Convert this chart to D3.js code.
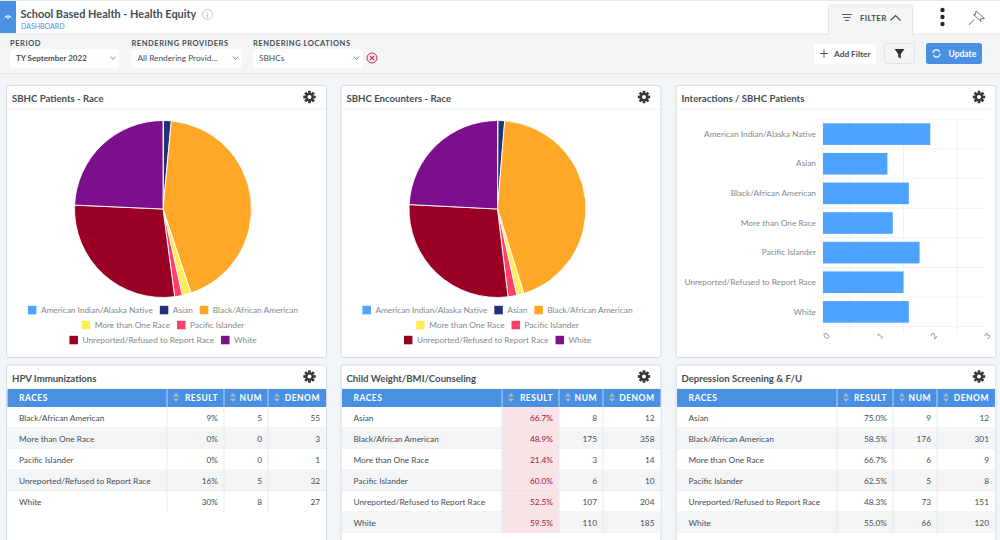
<!DOCTYPE html>
<html>
<head>
<meta charset="utf-8">
<script src="https://cdn.jsdelivr.net/npm/d3@7"></script>
<style>
  body { margin: 0; background: #f3f6f9; }
  svg { display: block; }
  text { font-family: Lato, sans-serif; }
</style>
</head>
<body>
<div id="dashboard"></div>
<script>
// Chart data
const races = ["American Indian/Alaska Native", "Asian", "Black/African American", "More than One Race", "Pacific Islander", "Unreported/Refused to Report Race", "White"];
const raceColors = ["#4da3ff", "#22317a", "#ffa726", "#ffee58", "#ff4069", "#990024", "#7b0f8c"];
const legendRows = [races.slice(0, 3), races.slice(3, 5), races.slice(5)];

const patientShares = [0.1, 1.4, 43.4, 1.6, 1.4, 27.8, 24.3];
const encounterShares = [0.1, 1.2, 43.9, 1.3, 1.6, 27.7, 24.2];
const interactions = [2.0, 1.2, 1.6, 1.3, 1.8, 1.5, 1.6];
const interactionTicks = [0, 1, 2, 3];
const interactionGrid = [0, 0.5, 1.5, 2.5];

const tableColumns = ["RESULT", "NUM", "DENOM"];

const hpvRaces = ["Black/African American", "More than One Race", "Pacific Islander", "Unreported/Refused to Report Race", "White"];
const hpvResult = ["9%", "0%", "0%", "16%", "30%"];
const hpvNum = [5, 0, 0, 5, 8];
const hpvDenom = [55, 3, 1, 32, 27];

const bmiRaces = ["Asian", "Black/African American", "More than One Race", "Pacific Islander", "Unreported/Refused to Report Race", "White"];
const bmiResult = ["66.7%", "48.9%", "21.4%", "60.0%", "52.5%", "59.5%"];
const bmiNum = [8, 175, 3, 6, 107, 110];
const bmiDenom = [12, 358, 14, 10, 204, 185];

const depressionRaces = bmiRaces;
const depressionResult = ["75.0%", "58.5%", "66.7%", "62.5%", "48.3%", "55.0%"];
const depressionNum = [9, 176, 6, 5, 73, 66];
const depressionDenom = [12, 301, 9, 8, 151, 120];

const ink = "#464d55";
const blue = "#4a90e2";
const bodySize = 8.3;

const svg = d3.select("#dashboard")
    .append("svg")
    .attr("width", 1000)
    .attr("height", 540);

// Small helper for the many labels on this page
function label(parent, x, y, str, size, color, opts = {}) {
    return parent.append("text")
        .attr("x", x)
        .attr("y", y)
        .attr("text-anchor", opts.anchor || "start")
        .style("font-size", size + "px")
        .style("font-weight", opts.weight || 400)
        .style("letter-spacing", opts.spacing || "normal")
        .attr("fill", color)
        .text(str);
}

function gear(cx, cy) {
    const g = svg.append("g").attr("transform", `translate(${cx},${cy})`);
    d3.range(4).forEach(i => {
        g.append("rect")
            .attr("x", -1.4).attr("y", -6.2)
            .attr("width", 2.8).attr("height", 12.4)
            .attr("fill", "#33383d")
            .attr("transform", `rotate(${i * 45})`);
    });
    g.append("circle").attr("r", 4).attr("fill", "#33383d");
    g.append("circle").attr("r", 2).attr("fill", "#fff");
}

function chevron(cx, cy, r, color) {
    svg.append("path")
        .attr("d", `M${cx - r},${cy - r / 2}L${cx},${cy + r / 2}L${cx + r},${cy - r / 2}`)
        .attr("fill", "none")
        .attr("stroke", color)
        .attr("stroke-width", 0.9);
}

// Top bar
svg.append("rect").attr("width", 1000).attr("height", 34).attr("fill", "#fff");
svg.append("rect").attr("y", 0).attr("width", 1000).attr("height", 1).attr("fill", "#e4e6e8");
svg.append("rect").attr("y", 1).attr("width", 16).attr("height", 32).attr("fill", blue);
svg.append("path").attr("d", "M5,17.5A3.5,3.5 0 0 1 11,17.5").attr("fill", "none").attr("stroke", "#fff").attr("stroke-width", 1.2);
svg.append("circle").attr("cx", 8).attr("cy", 18).attr("r", 1).attr("fill", "#fff");
label(svg, 20.5, 17.5, "School Based Health - Health Equity", 10.95, ink, {weight: 700});
label(svg, 21, 28.5, "DASHBOARD", 7, blue);
svg.append("circle").attr("cx", 207.5).attr("cy", 14.5).attr("r", 5).attr("fill", "#fff").attr("stroke", "#b5bcc4").attr("stroke-width", 0.8);
label(svg, 207.5, 17.5, "i", 8, "#9aa2ab", {anchor: "middle"});

// Filter bar
svg.append("rect").attr("y", 34).attr("width", 1000).attr("height", 39.5).attr("fill", "#f4f5f6");
svg.append("rect").attr("y", 33.5).attr("width", 1000).attr("height", 1).attr("fill", "#e6e8ea");
svg.append("rect").attr("y", 73).attr("width", 1000).attr("height", 1).attr("fill", "#e6e9ec");

// FILTER tab
svg.append("path").attr("d", "M828.5,34V7Q828.5,5 830.5,5H910Q912.5,5 912.5,7V34").attr("fill", "#f4f5f6").attr("stroke", "#e4e6e8");
svg.append("rect").attr("x", 829).attr("y", 32).attr("width", 83).attr("height", 3).attr("fill", "#f4f5f6");
[[842, 10], [843.5, 7], [845, 4]].forEach((d, i) => {
    svg.append("rect").attr("x", d[0]).attr("y", 14 + i * 3).attr("width", d[1]).attr("height", 1).attr("fill", "#555c63");
});
label(svg, 860, 20.5, "FILTER", 8, ink, {weight: 700, spacing: "0.3px"});
svg.append("path").attr("d", "M890.5,20.5L895.5,15.5L900.5,20.5").attr("fill", "none").attr("stroke", ink).attr("stroke-width", 1.2);

// Kebab and pin
[10, 17, 24].forEach(y => svg.append("circle").attr("cx", 942.5).attr("cy", y).attr("r", 2.2).attr("fill", "#25282b"));
svg.append("path")
    .attr("d", "M969,25L974,19.5M973,14L981,21.5M976,11L984.5,18.5M976,11L975,15.5M984.5,18.5L980,19M975,15.5L973,14M980,19L981,21.5")
    .attr("fill", "none")
    .attr("stroke", "#6f757b")
    .attr("stroke-width", 1);

// Dropdowns
const dropdowns = [
    {name: "PERIOD", value: "TY September 2022", x: 10, w: 109, weight: 700, size: 8},
    {name: "RENDERING PROVIDERS", value: "All Rendering Provid...", x: 131.5, w: 110, weight: 400, size: 8.3},
    {name: "RENDERING LOCATIONS", value: "SBHCs", x: 253, w: 109.5, weight: 400, size: 8.3}
];
dropdowns.forEach(d => {
    label(svg, d.x, 46, d.name, 7.5, ink, {weight: 700, spacing: "0.55px"});
    svg.append("rect")
        .attr("x", d.x).attr("y", 49.5)
        .attr("width", d.w).attr("height", 18)
        .attr("rx", 2)
        .attr("fill", "#fff");
    label(svg, d.x + 6, 61, d.value, d.size, ink, {weight: d.weight});
    chevron(d.x + d.w - 6, 58, 2.8, "#777");
});
svg.append("circle").attr("cx", 372).attr("cy", 58).attr("r", 5).attr("fill", "#fbe9ec").attr("stroke", "#c5304a");
svg.append("path").attr("d", "M369.8,55.8L374.2,60.2M374.2,55.8L369.8,60.2").attr("stroke", "#c5304a").attr("stroke-width", 1.2);

// Buttons
svg.append("rect").attr("x", 814).attr("y", 44).attr("width", 62).attr("height", 20).attr("rx", 2).attr("fill", "#fff");
svg.append("path").attr("d", "M820,53.5H828M824,49.5V57.5").attr("stroke", "#555").attr("stroke-width", 1);
label(svg, 834, 56.5, "Add Filter", bodySize, ink, {weight: 700});
svg.append("rect").attr("x", 884.5).attr("y", 43.5).attr("width", 30).attr("height", 20).attr("rx", 2).attr("fill", "#f4f5f6").attr("stroke", "#e2e4e6");
svg.append("path").attr("d", "M894.5,49H904.5L900.8,54V58.5L898.2,57V54Z").attr("fill", "#2f3236");
svg.append("rect").attr("x", 926).attr("y", 43).attr("width", 56).attr("height", 21).attr("rx", 2.5).attr("fill", blue);
svg.append("circle").attr("cx", 936.5).attr("cy", 53.5).attr("r", 3.6).attr("fill", "none").attr("stroke", "#fff").attr("stroke-width", 1.2).attr("stroke-dasharray", "9 2.3");
label(svg, 948.5, 56.5, "Update", 8.5, "#fff", {weight: 700});

// Panel frames
function panel(x, y, w, h, title) {
    svg.append("rect")
        .attr("x", x).attr("y", y)
        .attr("width", w).attr("height", h)
        .attr("rx", 3)
        .attr("fill", "#fff")
        .attr("stroke", "#d3dbe4");
    svg.append("line")
        .attr("x1", x + 0.5).attr("x2", x + w - 0.5)
        .attr("y1", y + 23.5).attr("y2", y + 23.5)
        .attr("stroke", "#eef0f2");
    label(svg, x + 5.5, y + 16.5, title, 9.6, ink, {weight: 700});
    gear(x + w - 17, y + 11.5);
}

const color = d3.scaleOrdinal().domain(races).range(raceColors);

function drawPie(cx, cy, shares) {
    const pie = d3.pie().sort(null);
    const arc = d3.arc().innerRadius(0).outerRadius(88.5);
    svg.append("g")
        .attr("transform", `translate(${cx},${cy})`)
        .selectAll("path")
        .data(pie(shares))
        .enter()
        .append("path")
        .attr("d", arc)
        .attr("fill", (d, i) => raceColors[i])
        .attr("stroke", "#fff")
        .attr("stroke-width", 0.9);

    // Legend rows are centred under the pie
    legendRows.forEach((row, r) => {
        const g = svg.append("g");
        let xPos = 0;
        row.forEach(name => {
            g.append("rect")
                .attr("x", xPos).attr("y", -4.2)
                .attr("width", 8.5).attr("height", 8.5)
                .attr("fill", color(name));
            const t = label(g, xPos + 13, 3, name, bodySize, "#85898f");
            xPos += 13 + t.node().getComputedTextLength() + 7;
        });
        g.attr("transform", `translate(${cx - (xPos - 7) / 2},${310 + r * 15})`);
    });
}

panel(6.5, 85.5, 320, 272, "SBHC Patients - Race");
drawPie(163, 209, patientShares);

panel(341, 85.5, 320, 272, "SBHC Encounters - Race");
drawPie(497.5, 209, encounterShares);

// Interactions bar chart
panel(676, 85.5, 320, 272, "Interactions / SBHC Patients");

const xBar = d3.scaleLinear().domain([0, 3]).range([823, 984]);
const yBar = d3.scaleBand().domain(races).range([119.3, 326.7]).paddingInner(0.27).paddingOuter(0.135);

// Row separators, one at every band edge
const bandEdges = races.map(r => yBar(r) - yBar.step() * 0.135).concat(326.7);
svg.append("g").selectAll("line")
    .data(bandEdges)
    .enter()
    .append("line")
    .attr("x1", 816.7).attr("x2", 984)
    .attr("y1", d => d).attr("y2", d => d)
    .attr("stroke", "#f0f1f3");
svg.append("g").selectAll("line")
    .data(interactionGrid)
    .enter()
    .append("line")
    .attr("x1", d => xBar(d)).attr("x2", d => xBar(d))
    .attr("y1", 119.3).attr("y2", 333)
    .attr("stroke", "#f0f1f3");

svg.append("g").selectAll("rect")
    .data(interactions)
    .enter()
    .append("rect")
    .attr("x", xBar(0))
    .attr("y", (d, i) => yBar(races[i]))
    .attr("width", d => xBar(d) - xBar(0))
    .attr("height", yBar.bandwidth())
    .attr("fill", "#4da3ff");

const yAxis = svg.append("g")
    .attr("transform", "translate(823,0)")
    .call(d3.axisLeft(yBar).tickSize(0).tickPadding(7));
yAxis.select(".domain").remove();
yAxis.selectAll("text")
    .style("font-family", "Lato, sans-serif")
    .style("font-size", bodySize + "px")
    .attr("fill", "#85898f");

const xAxis = svg.append("g")
    .attr("transform", "translate(0,327)")
    .call(d3.axisBottom(xBar).tickValues(interactionTicks).tickSize(0).tickFormat(d3.format("d")));
xAxis.select(".domain").remove();
xAxis.selectAll("text")
    .style("font-family", "Lato, sans-serif")
    .style("font-size", bodySize + "px")
    .attr("fill", "#85898f")
    .attr("y", 0)
    .attr("dy", 0)
    .attr("text-anchor", "middle")
    .attr("transform", "translate(5,11) rotate(-45)");

// Metric tables
function drawTable(x0, splits, x1, rowNames, result, num, denom, flagged) {
    const top = 389;
    const headBottom = 407;
    const edges = [x0].concat(splits, [x1]);
    const yRow = d3.scaleBand()
        .domain(rowNames)
        .range([headBottom, headBottom + 21 * rowNames.length]);
    const bottom = headBottom + 21 * rowNames.length;

    svg.append("rect").attr("x", x0).attr("y", top).attr("width", x1 - x0).attr("height", headBottom - top).attr("fill", blue);
    label(svg, x0 + 11.5, 401, "RACES", 8.5, "#fff", {weight: 700, spacing: "0.5px"});

    tableColumns.forEach((name, c) => {
        const left = edges[c + 1];
        const right = edges[c + 2];
        svg.append("line").attr("x1", left).attr("x2", left).attr("y1", top).attr("y2", headBottom).attr("stroke", "#fff").attr("stroke-opacity", 0.6);
        label(svg, right - 6, 401, name, 8.5, "#fff", {anchor: "end", weight: 700, spacing: "0.5px"});
        svg.append("path")
            .attr("d", `M${left + 6},396.5L${left + 9},393L${left + 12},396.5ZM${left + 6},398.5L${left + 9},402L${left + 12},398.5Z`)
            .attr("fill", "#aeb6c0");
    });

    rowNames.forEach((name, i) => {
        const y = yRow(name);
        svg.append("rect")
            .attr("x", x0).attr("y", y)
            .attr("width", x1 - x0).attr("height", yRow.bandwidth())
            .attr("fill", i % 2 ? "#f4f5f7" : "#fff");
        if (flagged) {
            svg.append("rect")
                .attr("x", edges[1]).attr("y", y)
                .attr("width", edges[2] - edges[1]).attr("height", yRow.bandwidth())
                .attr("fill", "#f8e4e7");
        }
        if (i < rowNames.length - 1) {
            svg.append("line")
                .attr("x1", x0).attr("x2", x1)
                .attr("y1", y + 21).attr("y2", y + 21)
                .attr("stroke", i === 3 ? "#dcdfe3" : "#e8eaed");
        }
        label(svg, x0 + 11.5, y + 14, name, bodySize, ink);
        label(svg, edges[2] - 6, y + 14, result[i], bodySize, flagged ? "#a3123a" : ink, {anchor: "end"});
        label(svg, edges[3] - 6, y + 14, num[i], bodySize, ink, {anchor: "end"});
        label(svg, edges[4] - 6, y + 14, denom[i], bodySize, ink, {anchor: "end"});
    });

    splits.forEach(s => {
        svg.append("line").attr("x1", s).attr("x2", s).attr("y1", headBottom).attr("y2", bottom).attr("stroke", "#e8eaed");
    });
}

panel(6.5, 365, 320, 190, "HPV Immunizations");
drawTable(7.5, [167, 224, 268], 326, hpvRaces, hpvResult, hpvNum, hpvDenom, false);

panel(341, 365, 320, 190, "Child Weight/BMI/Counseling");
drawTable(342, [502, 559, 603], 660.5, bmiRaces, bmiResult, bmiNum, bmiDenom, true);

panel(676, 365, 320, 190, "Depression Screening & F/U");
drawTable(677, [837, 893, 937], 995, depressionRaces, depressionResult, depressionNum, depressionDenom, false);
</script>
</body>
</html>
